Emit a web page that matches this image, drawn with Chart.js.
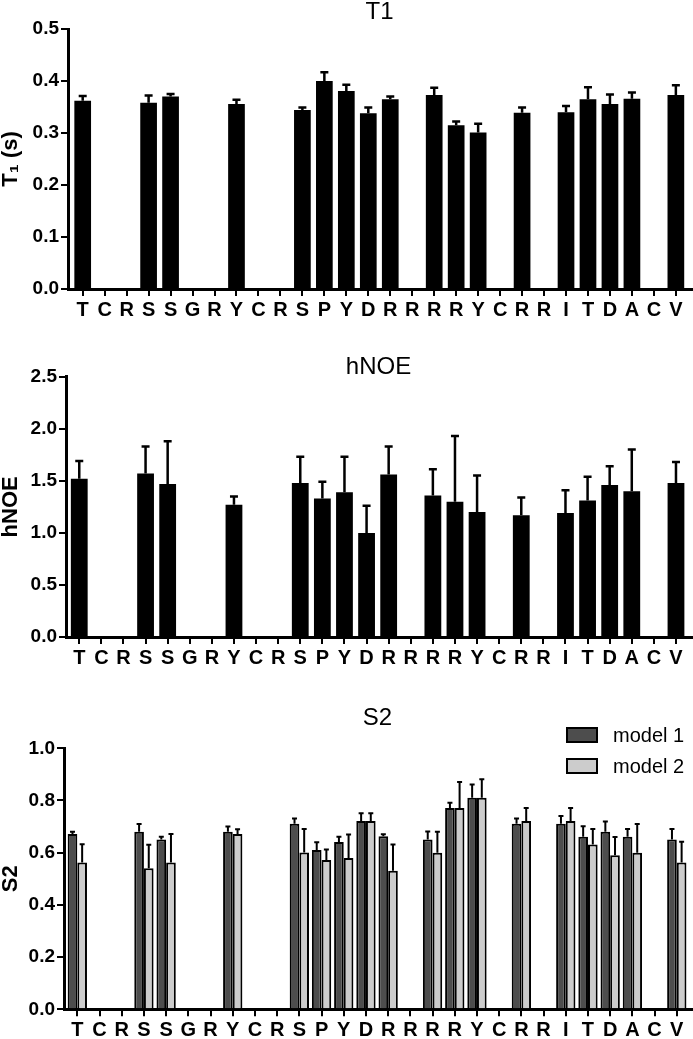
<!DOCTYPE html>
<html><head><meta charset="utf-8">
<script src="https://cdn.jsdelivr.net/npm/chart.js@4.4.0/dist/chart.umd.min.js"></script>
<style>
html,body{margin:0;padding:0;background:#fff;}
body{width:693px;height:1039px;position:relative;overflow:hidden;}
.c{position:absolute;left:0;width:693px;}
</style></head><body>
<div class="c" style="top:0;height:330px"><canvas id="c1"></canvas></div>
<div class="c" style="top:330px;height:345px"><canvas id="c2"></canvas></div>
<div class="c" style="top:675px;height:364px"><canvas id="c3"></canvas></div>
<script>
const residues = ['T','C','R','S','S','G','R','Y','C','R','S','P','Y','D','R','R','R','R','Y','C','R','R','I','T','D','A','C','V'];

const t1Values = [0.362,null,null,0.358,0.370,null,null,0.356,null,null,0.344,0.400,0.381,0.338,0.365,null,0.373,0.315,0.301,null,0.339,null,0.340,0.365,0.356,0.366,null,0.373];
const t1Errors = [0.009,null,null,0.014,0.005,null,null,0.008,null,null,0.005,0.017,0.012,0.011,0.005,null,0.014,0.007,0.017,null,0.010,null,0.012,0.023,0.018,0.012,null,0.019];

const hnoeValues = [1.52,null,null,1.57,1.47,null,null,1.27,null,null,1.48,1.33,1.39,1.00,1.56,null,1.36,1.30,1.20,null,1.17,null,1.19,1.31,1.46,1.40,null,1.48];
const hnoeErrors = [0.17,null,null,0.26,0.41,null,null,0.08,null,null,0.25,0.16,0.34,0.26,0.27,null,0.25,0.63,0.35,null,0.17,null,0.22,0.23,0.18,0.40,null,0.20];

const s2Model1 = [0.672,null,null,0.680,0.651,null,null,0.680,null,null,0.711,0.610,0.641,0.721,0.663,null,0.651,0.771,0.811,null,0.711,null,0.711,0.661,0.680,0.661,null,0.651];
const s2Model1Err = [0.008,null,null,0.03,0.01,null,null,0.02,null,null,0.02,0.03,0.02,0.03,0.008,null,0.03,0.02,0.05,null,0.02,null,0.03,0.04,0.04,0.03,null,0.04];
const s2Model2 = [0.562,null,null,0.540,0.562,null,null,0.672,null,null,0.601,0.572,0.580,0.721,0.531,null,0.600,0.771,0.811,null,0.721,null,0.721,0.631,0.590,0.600,null,0.562];
const s2Model2Err = [0.07,null,null,0.09,0.11,null,null,0.018,null,null,0.09,0.04,0.09,0.03,0.10,null,0.08,0.10,0.07,null,0.05,null,0.05,0.06,0.07,0.11,null,0.08];

const t1Ticks = [0, 0.1, 0.2, 0.3, 0.4, 0.5];
const hnoeTicks = [0, 0.5, 1.0, 1.5, 2.0, 2.5];
const s2Ticks = [0, 0.2, 0.4, 0.6, 0.8, 1.0];

const seriesNames = ['model 1', 'model 2'];
const FONT = "'Liberation Sans', Arial, Helvetica, sans-serif";

function points(vals, errs) {
  const out = [];
  vals.forEach((v, i) => { if (v !== null) out.push({ x: i, y: v, e: errs[i] }); });
  return out;
}

const errorBars = {
  id: 'errorBars',
  afterDatasetsDraw(chart, args, opts) {
    const ctx = chart.ctx, ys = chart.scales.y;
    chart.data.datasets.forEach((ds, di) => {
      const meta = chart.getDatasetMeta(di);
      meta.data.forEach((el, j) => {
        const pt = ds.data[j];
        if (!pt || pt.e == null) return;
        const top = ys.getPixelForValue(pt.y + pt.e);
        ctx.save();
        ctx.strokeStyle = '#000';
        ctx.lineWidth = opts.width;
        ctx.beginPath();
        ctx.moveTo(el.x, el.y);
        ctx.lineTo(el.x, top);
        ctx.moveTo(el.x - opts.cap / 2, top);
        ctx.lineTo(el.x + opts.cap / 2, top);
        ctx.stroke();
        ctx.restore();
      });
    });
  }
};

const panelTitle = {
  id: 'panelTitle',
  afterDraw(chart, args, opts) {
    const ctx = chart.ctx, a = chart.chartArea;
    ctx.save();
    ctx.fillStyle = '#000';
    ctx.font = `normal ${opts.size}px ${FONT}`;
    ctx.textAlign = 'center';
    ctx.textBaseline = 'alphabetic';
    ctx.fillText(opts.text, (a.left + a.right) / 2 - 1, opts.y);
    ctx.restore();
  }
};

const boxLegend = {
  id: 'boxLegend',
  afterDraw(chart, args, opts) {
    if (!opts.show) return;
    const ctx = chart.ctx;
    ctx.save();
    chart.data.datasets.forEach((ds, i) => {
      const top = opts.tops[i];
      ctx.fillStyle = ds.backgroundColor;
      ctx.fillRect(opts.x, top, opts.w, opts.h);
      ctx.strokeStyle = '#000';
      ctx.lineWidth = 2;
      ctx.strokeRect(opts.x, top, opts.w, opts.h);
      ctx.fillStyle = '#000';
      ctx.font = `normal ${opts.size}px ${FONT}`;
      ctx.textAlign = 'left';
      ctx.textBaseline = 'middle';
      ctx.fillText(ds.label, opts.tx, top + opts.h / 2 + 1);
    });
    ctx.restore();
  }
};

function makeChart(id, p) {
  return new Chart(document.getElementById(id), {
    type: 'bar',
    data: { datasets: p.datasets },
    options: {
      responsive: true,
      maintainAspectRatio: false,
      animation: false,
      layout: { padding: { top: p.top, right: 0, bottom: 0, left: 0 } },
      plugins: {
        legend: { display: false },
        tooltip: { enabled: false },
        errorBars: { width: p.errW, cap: p.cap },
        panelTitle: { text: p.title, y: p.titleY, size: 24 },
        boxLegend: p.legend || { show: false }
      },
      datasets: { bar: { categoryPercentage: p.catPct, barPercentage: p.barPct } },
      scales: {
        x: {
          type: 'linear', min: p.xmin, max: p.xmax, offset: false,
          afterBuildTicks: s => { s.ticks = residues.map((r, i) => ({ value: i })); },
          afterFit: s => { s.height = p.xh; },
          grid: { display: true, drawOnChartArea: false, drawTicks: true, tickLength: 7, color: '#000', lineWidth: 2, offset: false },
          border: { display: true, color: '#000', width: 3 },
          ticks: {
            autoSkip: false, maxRotation: 0, minRotation: 0, padding: 2, color: '#000',
            font: { family: FONT, size: 20, weight: 'bold' },
            callback: v => residues[v] ?? ''
          }
        },
        y: {
          type: 'linear', min: 0, max: p.ticks[p.ticks.length - 1],
          afterBuildTicks: s => { s.ticks = p.ticks.map(v => ({ value: v })); },
          afterFit: s => { s.width = p.left; },
          grid: { display: true, drawOnChartArea: false, drawTicks: true, tickLength: 7, color: '#000', lineWidth: 2 },
          border: { display: true, color: '#000', width: 3 },
          ticks: {
            padding: 2, color: '#000',
            font: { family: FONT, size: 19, weight: 'bold' },
            callback: v => Number(v).toFixed(1)
          },
          title: {
            display: true, text: p.ytitle, color: '#000',
            font: { family: FONT, size: 22, weight: 'bold', lineHeight: 1.0 },
            padding: { top: 0, bottom: 0 }
          }
        }
      }
    },
    plugins: [errorBars, panelTitle, boxLegend]
  });
}

makeChart('c1', {
  datasets: [{ label: 'T1', data: points(t1Values, t1Errors), backgroundColor: '#000', borderWidth: 0 }],
  ticks: t1Ticks, title: 'T1', titleY: 19, ytitle: 'T\u2081 (s)',
  top: 29, xh: 41, left: 68, xmin: -0.669, xmax: 27.78,
  catPct: 0.8, barPct: 0.95, errW: 2.5, cap: 8
});

makeChart('c2', {
  datasets: [{ label: 'hNOE', data: points(hnoeValues, hnoeErrors), backgroundColor: '#000', borderWidth: 0 }],
  ticks: hnoeTicks, title: 'hNOE', titleY: 44, ytitle: 'hNOE',
  top: 46.7, xh: 38, left: 66, xmin: -0.60, xmax: 27.77,
  catPct: 0.8, barPct: 0.95, errW: 2.5, cap: 8
});

makeChart('c3', {
  datasets: [
    { label: seriesNames[0], data: points(s2Model1, s2Model1Err), backgroundColor: '#4d4d4d', borderColor: '#000', borderWidth: 2 },
    { label: seriesNames[1], data: points(s2Model2, s2Model2Err), backgroundColor: '#cccccc', borderColor: '#000', borderWidth: 2 }
  ],
  ticks: s2Ticks, title: 'S2', titleY: 50, ytitle: 'S2',
  top: 73.3, xh: 29.7, left: 64, xmin: -0.60, xmax: 27.73,
  catPct: 0.87, barPct: 1.0, errW: 2, cap: 5,
  legend: { show: true, x: 567, w: 30, h: 14, tops: [53, 84], tx: 613, size: 20 }
});
</script>
</body></html>
